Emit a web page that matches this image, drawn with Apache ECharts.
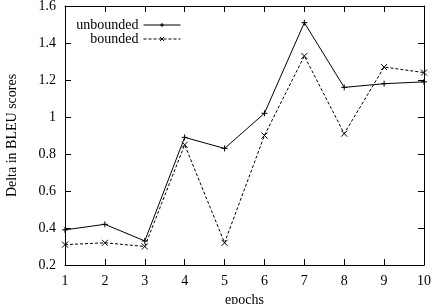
<!DOCTYPE html>
<html>
<head>
<meta charset="utf-8">
<script src="https://cdn.jsdelivr.net/npm/echarts@6/dist/echarts.min.js"></script>
<style>
  html, body { margin: 0; padding: 0; background: #fff; }
  #chart { width: 436px; height: 304px; }
</style>
</head>
<body>
<div id="chart"></div>
<script>
const epochs = [1, 2, 3, 4, 5, 6, 7, 8, 9, 10]
const unbounded = [0.39, 0.42, 0.33, 0.89, 0.83, 1.02, 1.51, 1.16, 1.18, 1.19]
const bounded = [0.31, 0.32, 0.30, 0.85, 0.32, 0.90, 1.33, 0.91, 1.27, 1.24]

const font = 'Liberation Serif'
const plus = 'path://M5,0L5,10M0,5L10,5'
const cross = 'path://M0,0L10,10M10,0L0,10'

const pair = (ys) => epochs.map((x, i) => [x, ys[i]])

const myChart = echarts.init(document.getElementById('chart'))
const tickStyle = { inside: true, length: 6, lineStyle: { color: '#000' } }
const legendBase = {
  right: 255, align: 'right', padding: 0,
  itemWidth: 37, itemHeight: 5, itemGap: 4,
  lineStyle: { width: 1 },
  itemStyle: { borderWidth: 1 },
  textStyle: { fontFamily: font, fontSize: 14, color: '#000' }
}
const option = {
  animation: false,
  textStyle: { fontFamily: font, color: '#000' },
  grid: { left: 65, right: 12, top: 6, bottom: 39, outerBoundsMode: 'none' },
  legend: [
    Object.assign({ data: ['unbounded'], top: 18 }, legendBase),
    Object.assign({ data: ['bounded'], top: 32 }, legendBase)
  ],
  xAxis: [
    {
      type: 'value', min: 1, max: 10, interval: 1,
      name: 'epochs', nameLocation: 'middle', nameGap: 28,
      nameTextStyle: { fontFamily: font, fontSize: 14, color: '#000' },
      axisLine: { onZero: false, lineStyle: { color: '#000', width: 1 } },
      axisTick: tickStyle,
      axisLabel: { fontFamily: font, fontSize: 14, color: '#000', margin: 9 },
      splitLine: { show: false }
    },
    {
      type: 'value', min: 1, max: 10, interval: 1, position: 'top',
      axisLine: { onZero: false, lineStyle: { color: '#000', width: 1 } },
      axisTick: tickStyle,
      axisLabel: { show: false },
      splitLine: { show: false }
    }
  ],
  yAxis: [
    {
      type: 'value', min: 0.2, max: 1.6, interval: 0.2,
      name: 'Delta in BLEU scores', nameLocation: 'middle', nameGap: 46,
      nameTextStyle: { fontFamily: font, fontSize: 14, color: '#000' },
      axisLine: { show: true, onZero: false, lineStyle: { color: '#000', width: 1 } },
      axisTick: tickStyle,
      axisLabel: { fontFamily: font, fontSize: 14, color: '#000', margin: 9 },
      splitLine: { show: false }
    },
    {
      type: 'value', min: 0.2, max: 1.6, interval: 0.2, position: 'right',
      axisLine: { show: true, onZero: false, lineStyle: { color: '#000', width: 1 } },
      axisTick: tickStyle,
      axisLabel: { show: false },
      splitLine: { show: false }
    }
  ],
  series: [
    {
      name: 'unbounded', type: 'line', data: pair(unbounded),
      symbol: plus, symbolSize: 6,
      itemStyle: { color: '#000', borderColor: '#000', borderWidth: 1 },
      lineStyle: { color: '#000', width: 1 }
    },
    {
      name: 'bounded', type: 'line', data: pair(bounded),
      symbol: cross, symbolSize: 6,
      itemStyle: { color: '#000', borderColor: '#000', borderWidth: 1 },
      lineStyle: { color: '#000', width: 1, type: [3, 2] }
    }
  ]
}
myChart.setOption(option)
</script>
</body>
</html>
